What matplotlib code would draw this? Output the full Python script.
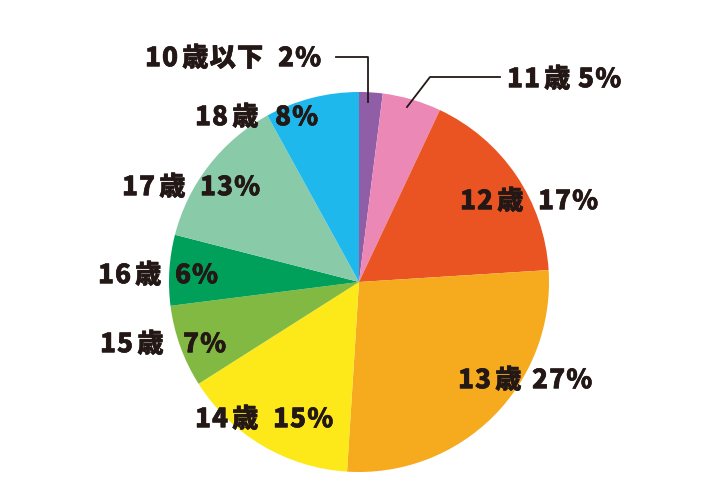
import matplotlib
matplotlib.use("Agg")
from matplotlib import pyplot as plt
from matplotlib import patheffects as pe

plt.rcParams['font.family'] = ['Noto Sans CJK JP', 'DejaVu Sans']

ages = ["10歳以下", "11歳", "12歳", "13歳", "14歳", "15歳", "16歳", "17歳", "18歳"]
shares = [2, 5, 17, 27, 15, 7, 6, 13, 8]
colors = ["#8f5ea6", "#ec88b6", "#e95422", "#f6aa1d", "#fde81a",
          "#82b942", "#00a05b", "#89caa9", "#1fb8ec"]

# left edge of age text, left edge of percent text, vertical centre (pixels, from top)
label_pos = [(145, 278, 58), (507, 578, 79), (460, 538, 201),
             (458, 532, 380), (195, 273, 419), (100, 183, 344),
             (98, 175, 275), (122, 200, 187), (195, 275, 117)]

W, H = 715, 504
TXT = "#231815"
FS = 19
TRACK = 1.0  # extra px between characters
CJK_GAP = 3.0  # a bit more air before kanji

fig = plt.figure(figsize=(W / 100, H / 100), dpi=100)
ax = fig.add_axes([0, 0, 1, 1])

cx, cy, r = 359, H - 282, 190
ax.pie(shares, colors=colors, startangle=90, counterclock=False,
       center=(cx, cy), radius=r, frame=True,
       wedgeprops=dict(linewidth=0))
ax.set_xlim(0, W)
ax.set_ylim(0, H)
ax.set_aspect('equal')
ax.axis('off')

renderer = fig.canvas.get_renderer()
heavy = [pe.withStroke(linewidth=0.4, foreground=TXT)]


def tracked(x, y, s):
    # draw string char by char with extra spacing
    prev = None
    for ch in s:
        if prev is not None and ord(ch) > 127 and ord(prev) < 128:
            x += CJK_GAP
        t = ax.text(x, H - y, ch, ha='left', va='center', fontsize=FS,
                    fontweight='black', color=TXT, path_effects=heavy)
        w = t.get_window_extent(renderer).width
        x += w + TRACK
        prev = ch


for age, s, (xa, xp, y) in zip(ages, shares, label_pos):
    tracked(xa, y, age)
    tracked(xp, y, f"{s}%")

# leader lines
ax.plot([336, 368, 368], [H - 57, H - 57, H - 102], color=TXT, lw=1.3)
ax.plot([407, 430, 500], [H - 107, H - 77, H - 77], color=TXT, lw=1.3)

fig.savefig("out.png", dpi=100)
